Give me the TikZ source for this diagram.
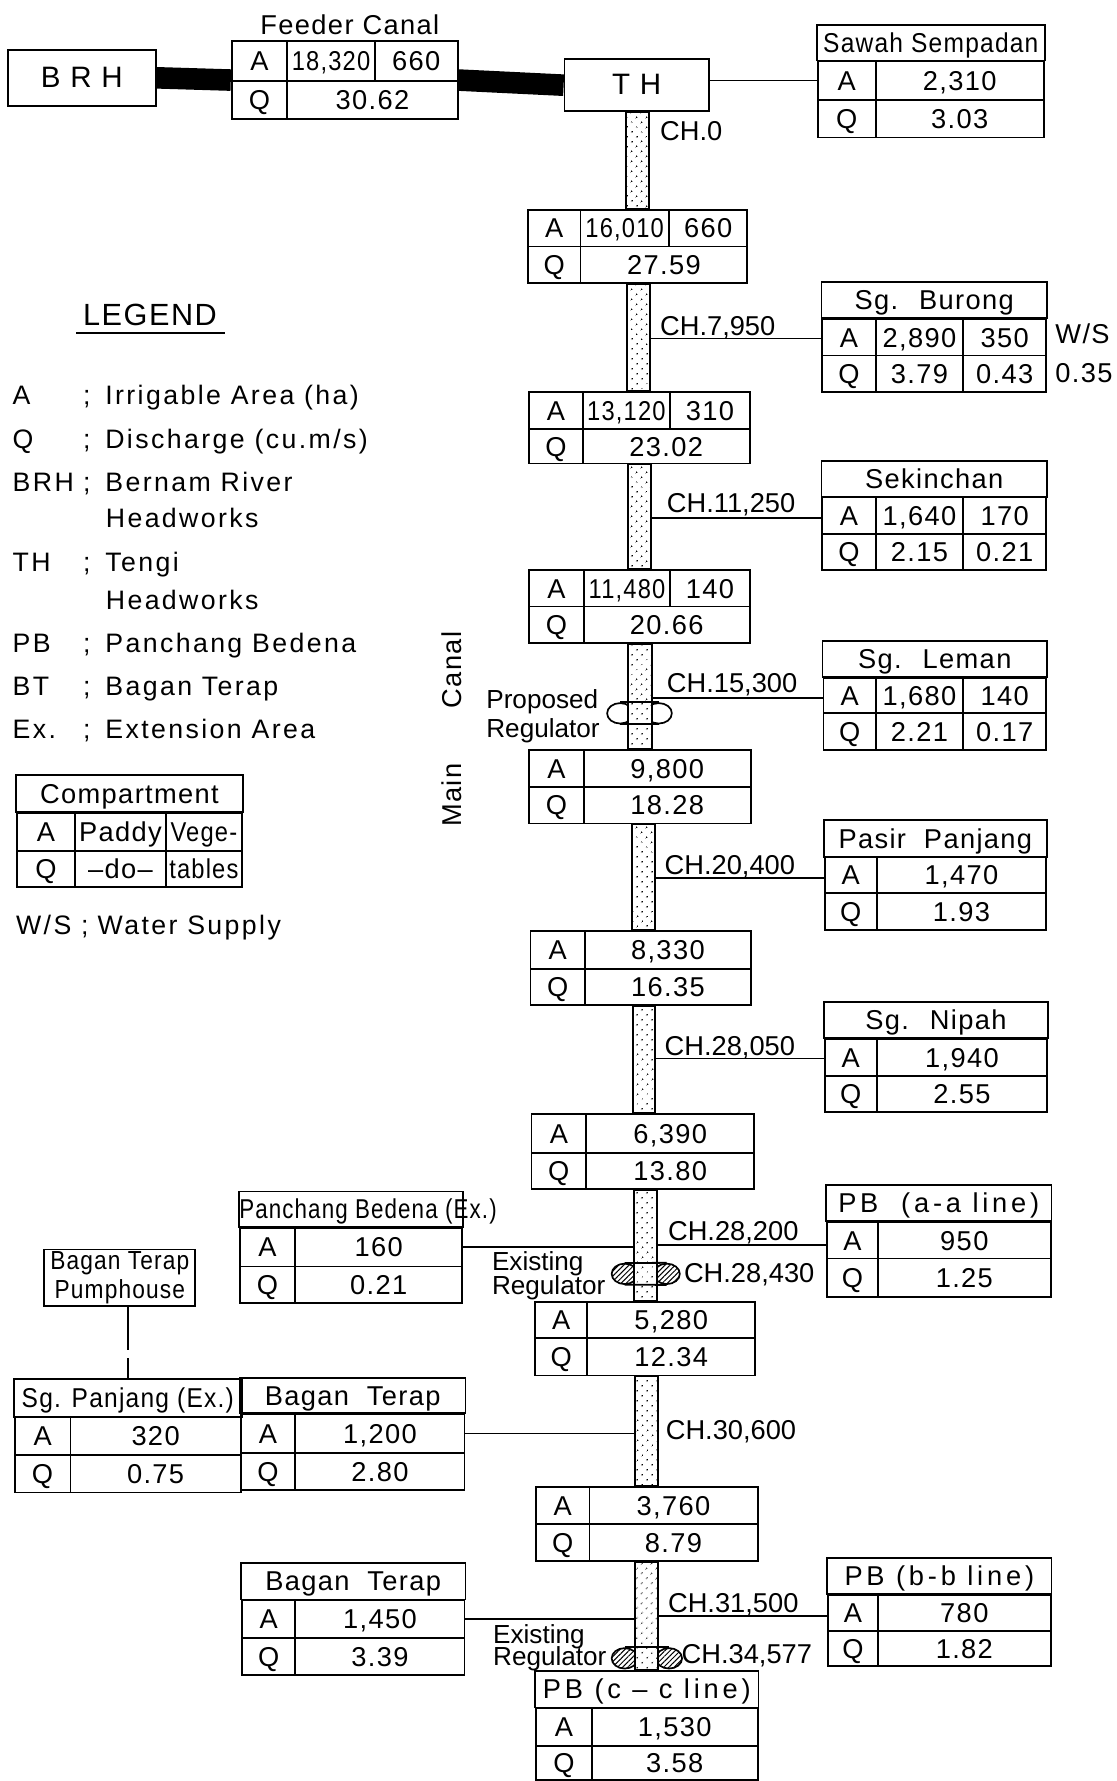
\documentclass[tikz,border=0pt]{standalone}
\usepackage{graphicx}
\usepackage{fontspec}
\setmainfont{Liberation Sans}[LetterSpace=5]
\usetikzlibrary{positioning,calc,fit,shapes.geometric,patterns.meta}

\tikzset{
  tabframe/.style={draw, line width=1.6pt, inner sep=0pt},
  rule/.style={line width=1.6pt},
  celltxt/.style={inner sep=0pt, text height=17pt, text depth=0pt,
                  font=\fontsize{24}{26}\selectfont},
  leftlabel/.style={celltxt, anchor=west},
  chlabel/.style={leftlabel, font=\fontsize{24}{26}\addfontfeature{LetterSpace=0}},
  reglabel/.style={leftlabel, font=\fontsize{23}{26}\addfontfeature{LetterSpace=0}},
  legtxt/.style={leftlabel, font=\fontsize{23.5}{26}\addfontfeature{LetterSpace=9}},
  headbox/.style={tabframe, font=\fontsize{26}{28}\selectfont},
  canalseg/.style={draw, line width=1.8pt, inner sep=0pt, preaction={fill=white},
                   pattern={Dots[distance=6.5pt, radius=.9pt, angle=45]}},
  branch/.style={line width=1.5pt},
  feederline/.style={line width=19pt},
  propreg/.style={draw, ellipse, line width=1.5pt, inner sep=0pt,
                  minimum width=23pt, minimum height=18pt},
  existreg/.style={propreg, pattern={Lines[angle=45, distance=3.2pt, line width=.9pt]}}
}

\newcommand{\tight}[1]{\scalebox{.87}[1]{#1}}
\newcommand{\wide}[1]{{\addfontfeature{LetterSpace=14}#1}}

% name, left, column, right, top, middle, bottom, A value, Q value
\newcommand{\qtable}[9]{
  \node[tabframe, fit={(#2,#5)(#4,#7)}] (#1) {};
  \draw[rule] (#3,#5) -- (#3,#7);
  \draw[rule] (#2,#6) -- (#4,#6);
  \coordinate (#1-wa) at (#2,{(#5+#6)/2});
  \coordinate (#1-ca) at (#3,{(#5+#6)/2});
  \coordinate (#1-ea) at (#4,{(#5+#6)/2});
  \coordinate (#1-cq) at (#3,{(#6+#7)/2});
  \coordinate (#1-eq) at (#4,{(#6+#7)/2});
  \coordinate (#1-mid) at (#3,#6);
  \node[celltxt] (#1-la) at ({(#2+#3)/2},{(#5+#6)/2}) {A};
  \node[celltxt] (#1-lq) at ({(#2+#3)/2},{(#6+#7)/2}) {Q};
  \node[celltxt] (#1-a) at ($(#1-ca)!.5!(#1-ea)$) {#8};
  \node[celltxt] (#1-q) at ($(#1-cq)!.5!(#1-eq)$) {#9};
}
% table, column, two values
\newcommand{\splitA}[4]{
  \draw[rule] (#2,0 |- #1.north) -- (#2,0 |- #1-mid);
  \node[celltxt] (#1-a1) at ($(#1-ca)!.5!(#2,0 |- #1-ca)$) {#3};
  \node[celltxt] (#1-a2) at ($(#2,0 |- #1-ca)!.5!(#1-ea)$) {#4};
}
\newcommand{\splitQ}[4]{
  \draw[rule] (#2,0 |- #1-mid) -- (#2,0 |- #1.south);
  \node[celltxt] (#1-q1) at ($(#1-cq)!.5!(#2,0 |- #1-cq)$) {#3};
  \node[celltxt] (#1-q2) at ($(#2,0 |- #1-cq)!.5!(#1-eq)$) {#4};
}
% table, top of the title row, title
\newcommand{\titlerow}[4][]{
  \node[tabframe, fit={(#2.north west)(#2.north east |- 0,#3)}] (#2-title) {};
  \node[celltxt, #1] (#2-name) at (#2-title.center) {#4};
}

\begin{document}
\begin{tikzpicture}[x=1pt, y=-1pt]
  \useasboundingbox (0,0) rectangle (983,1568);

  % head of the system
  \node[headbox, fit={(7,44)(137,93)}] (brh) {};
  \node[celltxt, font=\fontsize{26}{28}\selectfont] (brhtxt) at (brh.center) {B R H};
  \node[headbox, fit={(497,52)(624,98)}] (th) {};
  \node[celltxt, font=\fontsize{26}{28}\selectfont] (thtxt) at (th.center) {T H};

  \qtable{feeder}{204}{253}{403}{36}{71}{105}{}{30.62}
  \splitA{feeder}{330}{\tight{18,320}}{660}
  \node[celltxt] (feedername) at (308,22) {Feeder Canal};

  \qtable{sawah}{720}{771}{919}{54}{88}{121}{2,310}{3.03}
  \titlerow{sawah}{22}{\scalebox{.9}[1]{Sawah Sempadan}}

  % main canal tables
  \qtable{mca}{465}{511}{658}{185}{217}{249}{}{27.59}
  \splitA{mca}{589}{\tight{16,010}}{660}
  \qtable{mcb}{466}{513}{660}{345}{378}{408}{}{23.02}
  \splitA{mcb}{590}{\tight{13,120}}{310}
  \qtable{mcc}{466}{514}{660}{502}{534}{566}{}{20.66}
  \splitA{mcc}{590}{\tight{11,480}}{140}
  \qtable{mcd}{466}{514}{661}{660}{693}{725}{9,800}{18.28}
  \qtable{mce}{467}{515}{661}{820}{853}{885}{8,330}{16.35}
  \qtable{mcf}{468}{516}{664}{981}{1015}{1047}{6,390}{13.80}
  \qtable{mcg}{471}{517}{665}{1146}{1178}{1211}{5,280}{12.34}
  \qtable{mch}{472}{519}{667}{1309}{1342}{1374}{3,760}{8.79}
  \qtable{pbc}{472}{521}{667}{1504}{1537}{1567}{1,530}{3.58}
  \titlerow{pbc}{1471}{\wide{PB (c -- c line)}}

  % right hand compartments
  \qtable{burong}{724}{771}{921}{281}{313}{345}{}{}
  \splitA{burong}{848}{2,890}{350}
  \splitQ{burong}{848}{3.79}{0.43}
  \titlerow{burong}{248}{Sg.~ Burong}
  \node[leftlabel] (wsa) at (929,294) {W/S};
  \node[leftlabel, below=34pt of wsa.west, anchor=west] (wsq) {0.35};
  \qtable{sekin}{724}{771}{921}{438}{470}{502}{}{}
  \splitA{sekin}{848}{1,640}{170}
  \splitQ{sekin}{848}{2.15}{0.21}
  \titlerow{sekin}{406}{Sekinchan}
  \qtable{leman}{725}{771}{921}{597}{628}{660}{}{}
  \splitA{leman}{848}{1,680}{140}
  \splitQ{leman}{848}{2.21}{0.17}
  \titlerow{leman}{564}{Sg.~ Leman}
  \qtable{pasir}{726}{772}{921}{755}{786}{819}{1,470}{1.93}
  \titlerow{pasir}{722}{Pasir~ Panjang}
  \qtable{nipah}{726}{772}{922}{915}{947}{979}{1,940}{2.55}
  \titlerow{nipah}{882}{Sg.~ Nipah}
  \qtable{pbaa}{728}{773}{925}{1076}{1108}{1142}{950}{1.25}
  \titlerow{pbaa}{1043}{\wide{PB~ (a-a line)}}
  \qtable{pbbb}{729}{773}{925}{1404}{1436}{1467}{780}{1.82}
  \titlerow{pbbb}{1372}{\wide{PB (b-b line)}}

  % left hand compartments
  \qtable{pbex}{211}{260}{407}{1081}{1115}{1147}{160}{0.21}
  \titlerow[xshift=15pt]{pbex}{1049}{\scalebox{.82}[1]{Panchang Bedena (Ex.)}}
  \qtable{sgpj}{13}{62}{212}{1248}{1281}{1314}{320}{0.75}
  \titlerow{sgpj}{1214}{\scalebox{.9}[1]{Sg. Panjang (Ex.)}}
  \qtable{btb}{212}{260}{409}{1245}{1279}{1312}{1,200}{2.80}
  \titlerow{btb}{1213}{Bagan~ Terap}
  \qtable{btc}{213}{260}{409}{1409}{1442}{1475}{1,450}{3.39}
  \titlerow{btc}{1376}{Bagan~ Terap}
  \node[tabframe, fit={(39,1100)(172,1150)}] (pump) {};
  \node[align=center, inner sep=0pt, font=\fontsize{23}{26}\selectfont] (pumptxt) at (pump.center) {\tight{Bagan Terap}\\\tight{Pumphouse}};

  % regulators sit behind the canal
  \node[propreg] (propl) at (546,628) {};
  \node[propreg] (propr) at (580,628) {};
  \node[existreg] (exal) at (550,1121.5) {};
  \node[existreg] (exar) at (587,1121.5) {};
  \node[existreg] (exbl) at (550,1460) {};
  \node[existreg] (exbr) at (589,1460) {};

  % main canal
  \node[canalseg, fit={(551,0 |- th.south)(571,0 |- mca.north)}] (seg0) {};
  \node[canalseg, fit={(552,0 |- mca.south)(572,0 |- mcb.north)}] (seg1) {};
  \node[canalseg, fit={(553,0 |- mcb.south)(573,0 |- mcc.north)}] (seg2) {};
  \node[canalseg, fit={(553,0 |- mcc.south)(574,0 |- mcd.north)}] (seg3) {};
  \node[canalseg, fit={(556,0 |- mcd.south)(577,0 |- mce.north)}] (seg4) {};
  \node[canalseg, fit={(557,0 |- mce.south)(577,0 |- mcf.north)}] (seg5) {};
  \node[canalseg, fit={(558,0 |- mcf.south)(578,0 |- mcg.north)}] (seg6) {};
  \node[canalseg, fit={(559,0 |- mcg.south)(579,0 |- mch.north)}] (seg7) {};
  \node[canalseg, fit={(559,0 |- mch.south)(579,0 |- pbc-title.north)}] (seg8) {};

  \draw[rule] (propl.north) -- (propr.north);
  \draw[rule] (propl.south) -- (propr.south);
  \draw[rule] (exal.north) -- (exar.north);
  \draw[rule] (exal.south) -- (exar.south);
  \draw[rule] (exbl.north) -- (exbr.north);

  % connectors
  \draw[feederline] (brh.east) -- (feeder.west);
  \draw[feederline] (feeder.east) -- (th.west);
  \draw[branch] (th.east |- sawah-wa) -- (sawah-wa);
  \draw[branch] ([yshift=-1pt]seg1.east |- burong-wa) -- ([yshift=-1pt]burong-wa);
  \draw[branch] ([yshift=-2pt]seg2.east |- sekin-wa) -- ([yshift=-2pt]sekin-wa);
  \draw[branch] ([yshift=-2pt]seg3.east |- leman-wa) -- ([yshift=-2pt]leman-wa);
  \draw[branch] ([yshift=-2.5pt]seg4.east |- pasir-wa) -- ([yshift=-2.5pt]pasir-wa);
  \draw[branch] ([yshift=-1pt]seg5.east |- nipah-wa) -- ([yshift=-1pt]nipah-wa);
  \draw[branch] ([yshift=-4pt]seg6.east |- pbaa-wa) -- ([yshift=-4pt]pbaa-wa);
  \draw[branch] ([yshift=-3pt]seg8.east |- pbbb-wa) -- ([yshift=-3pt]pbbb-wa);
  \draw[branch] (pbex-ea) -- (seg6.west |- pbex-ea);
  \draw[branch] (btb-ea) -- (seg7.west |- btb-ea);
  \draw[branch] (btc-ea) -- (seg8.west |- btc-ea);
  \draw[line width=1.4pt, dash pattern=on 38pt off 7pt] (pump.south -| sgpj-title.north) -- (sgpj-title.north);

  % chainage labels
  \node[chlabel] (ch0) at (581,115) {CH.0};
  \node[chlabel] (ch7950) at (581,287) {CH.7,950};
  \node[chlabel] (ch11250) at (587,443) {CH.11,250};
  \node[chlabel] (ch15300) at (587,601) {CH.15,300};
  \node[chlabel] (ch20400) at (585,761) {CH.20,400};
  \node[chlabel] (ch28050) at (585,921) {CH.28,050};
  \node[chlabel] (ch28200) at (588,1084) {CH.28,200};
  \node[chlabel] (ch28430) at (602,1121) {CH.28,430};
  \node[chlabel] (ch30600) at (586,1259) {CH.30,600};
  \node[chlabel] (ch31500) at (588,1411) {CH.31,500};
  \node[chlabel] (ch34577) at (600,1456) {CH.34,577};

  \node[reglabel] (propa) at (428,615) {Proposed};
  \node[reglabel, below=26pt of propa.west, anchor=west] (propb) {Regulator};
  \node[reglabel] (exaa) at (433,1110) {Existing};
  \node[reglabel, below=21pt of exaa.west, anchor=west] (exab) {Regulator};
  \node[reglabel] (exba) at (434,1438) {Existing};
  \node[reglabel, below=20pt of exba.west, anchor=west] (exbb) {Regulator};

  \node[celltxt, rotate=90] (cnl) at (398,590) {Canal};
  \node[celltxt, rotate=90] (mn) at (398,700) {Main};

  % legend
  \node[legtxt, font=\fontsize{27}{28}\selectfont] (leghead) at (73,278) {LEGEND};
  \draw[rule] (67,293) -- (198,293);

  \node[legtxt] (keya) at (11,348) {A};
  \node[legtxt, below=38pt of keya.west, anchor=west] (keyq) {Q};
  \node[legtxt, below=38pt of keyq.west, anchor=west] (keybrh) {BRH};
  \node[legtxt, below=71pt of keybrh.west, anchor=west] (keyth) {TH};
  \node[legtxt, below=71pt of keyth.west, anchor=west] (keypb) {PB};
  \node[legtxt, below=38pt of keypb.west, anchor=west] (keybt) {BT};
  \node[legtxt, below=38pt of keybt.west, anchor=west] (keyex) {Ex.};

  \node[legtxt] (txta) at (73,348) {;\hspace{13pt}Irrigable Area (ha)};
  \node[legtxt, below=38pt of txta.west, anchor=west] (txtq) {;\hspace{13pt}Discharge (cu.m/s)};
  \node[legtxt, below=38pt of txtq.west, anchor=west] (txtbrh) {;\hspace{13pt}Bernam River};
  \node[legtxt, below=32pt of txtbrh.west, xshift=20pt, anchor=west] (txtbrhb) {Headworks};
  \node[legtxt, below=71pt of txtbrh.west, anchor=west] (txtth) {;\hspace{13pt}Tengi};
  \node[legtxt, below=33pt of txtth.west, xshift=20pt, anchor=west] (txtthb) {Headworks};
  \node[legtxt, below=71pt of txtth.west, anchor=west] (txtpb) {;\hspace{13pt}Panchang Bedena};
  \node[legtxt, below=38pt of txtpb.west, anchor=west] (txtbt) {;\hspace{13pt}Bagan Terap};
  \node[legtxt, below=38pt of txtbt.west, anchor=west] (txtex) {;\hspace{13pt}Extension Area};

  \qtable{comp}{15}{66}{213}{716}{749}{781}{}{}
  \splitA{comp}{146}{Paddy}{\tight{Vege-}}
  \splitQ{comp}{146}{--do--}{\tight{tables}}
  \titlerow{comp}{682}{Compartment}
  \node[legtxt] (wslabel) at (14,814) {W/S ;\hspace{8pt}Water Supply};
\end{tikzpicture}
\end{document}
